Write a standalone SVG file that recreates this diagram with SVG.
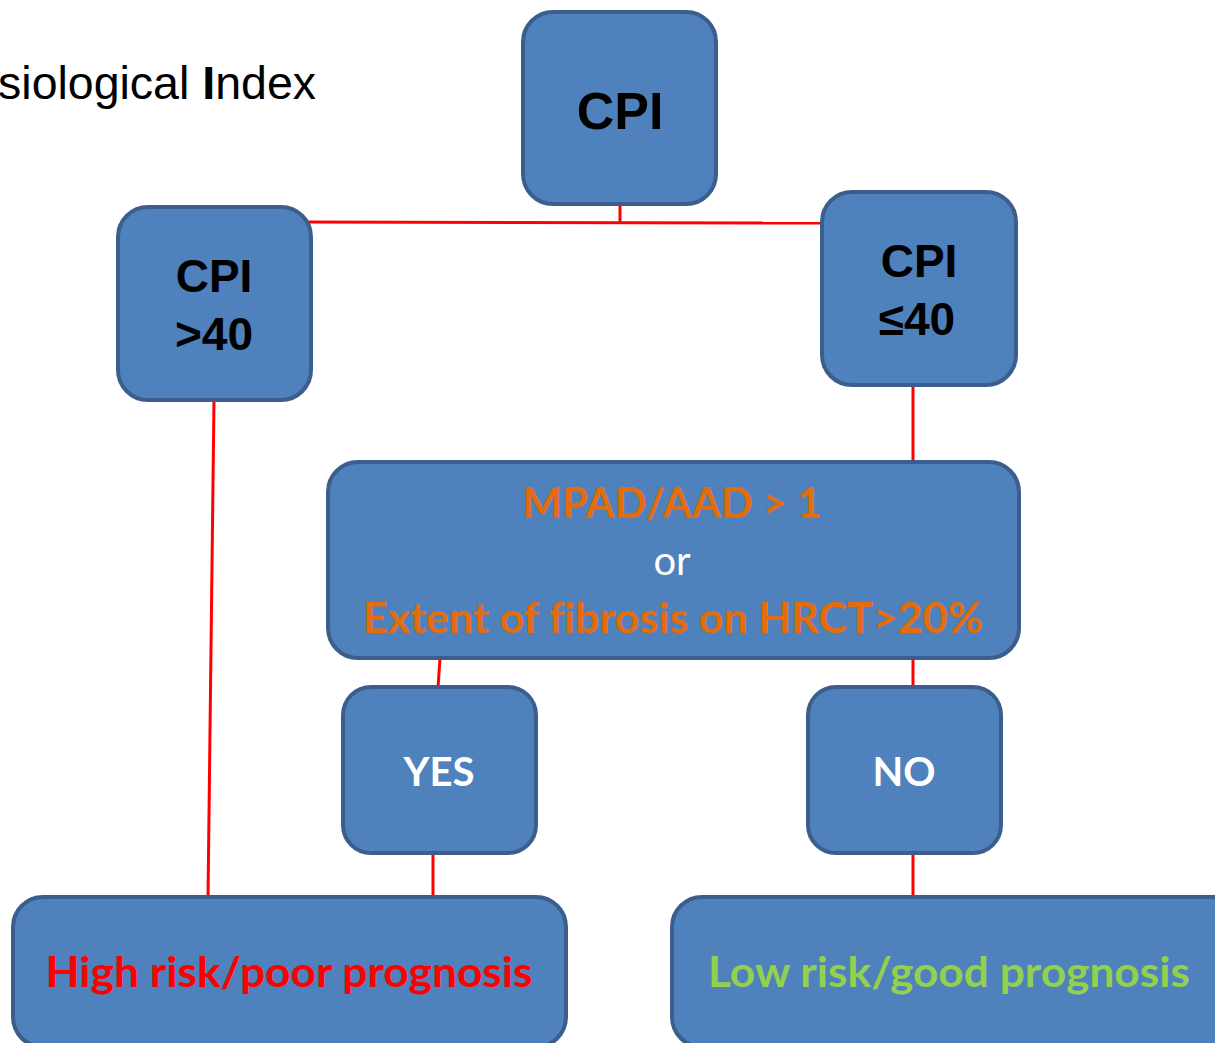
<svg xmlns="http://www.w3.org/2000/svg" width="1215" height="1043" viewBox="0 0 1215 1043">
  <style>
    .box { fill: #4f81bd; stroke: #3b5e8c; stroke-width: 4; }
    .link { stroke: #ff0000; stroke-width: 3; fill: none; }
    .hd { font-family: "Liberation Sans", Arial, sans-serif; font-weight: bold; fill: #000; text-anchor: middle; }
    .cal { font-family: Lato, "Open Sans", sans-serif; text-anchor: middle; font-variant-ligatures: none; font-feature-settings: "liga" 0, "clig" 0; }
    .b { font-weight: bold; }
  </style>
  <rect width="1215" height="1043" fill="#ffffff"/>

  <!-- title fragment -->
  <text x="316" y="99" font-family="Liberation Sans, Arial, sans-serif" font-size="46.5" fill="#000" text-anchor="end">siological <tspan font-weight="bold">I</tspan>ndex</text>

  <!-- connectors -->
  <g id="connectors">
    <line class="link" x1="620" y1="204" x2="620" y2="222"/>
    <line class="link" x1="300" y1="222" x2="823" y2="223"/>
    <line class="link" x1="214" y1="400" x2="208" y2="898"/>
    <line class="link" x1="913" y1="385" x2="913" y2="463"/>
    <line class="link" x1="440" y1="658" x2="438" y2="688"/>
    <line class="link" x1="913" y1="658" x2="913" y2="688"/>
    <line class="link" x1="433" y1="853" x2="433" y2="898"/>
    <line class="link" x1="913" y1="853" x2="913" y2="898"/>
  </g>

  <g id="cpi">
    <rect class="box" x="523" y="12" width="193" height="192" rx="30"/>
    <text class="hd" x="620" y="129" font-size="52">CPI</text>
  </g>

  <g id="cpi-high">
    <rect class="box" x="118" y="207" width="193" height="193" rx="30"/>
    <text class="hd" x="214" y="292" font-size="46">CPI</text>
    <text class="hd" x="214" y="350" font-size="46">&gt;40</text>
  </g>

  <g id="cpi-low">
    <rect class="box" x="822" y="192" width="194" height="193" rx="30"/>
    <text class="hd" x="919" y="277" font-size="46">CPI</text>
    <text class="hd" x="917" y="335" font-size="46">≤40</text>
  </g>

  <g id="criteria">
    <rect class="box" x="328" y="462" width="691" height="196" rx="30"/>
    <text class="cal b" x="672" y="518" font-size="42" fill="#e46c0a" textLength="299" lengthAdjust="spacingAndGlyphs">MPAD/AAD &gt; 1</text>
    <text class="cal" x="672" y="575" font-size="40" fill="#ffffff">or</text>
    <text class="cal b" x="673" y="633" font-size="42" fill="#e46c0a" textLength="620" lengthAdjust="spacingAndGlyphs">Extent of fibrosis on HRCT&gt;20%</text>
  </g>

  <g id="yes">
    <rect class="box" x="343" y="687" width="193" height="166" rx="28"/>
    <text class="cal b" x="439" y="786" font-size="40" fill="#ffffff" textLength="71" lengthAdjust="spacingAndGlyphs">YES</text>
  </g>

  <g id="no">
    <rect class="box" x="808" y="687" width="193" height="166" rx="28"/>
    <text class="cal b" x="904" y="786" font-size="40" fill="#ffffff" textLength="63" lengthAdjust="spacingAndGlyphs">NO</text>
  </g>

  <g id="high-risk">
    <rect class="box" x="13" y="897" width="553" height="150" rx="30"/>
    <text class="cal b" x="289" y="987" font-size="42" fill="#ff0000" textLength="487" lengthAdjust="spacingAndGlyphs">High risk/poor prognosis</text>
  </g>

  <g id="low-risk">
    <rect class="box" x="672" y="897" width="570" height="150" rx="30"/>
    <text class="cal b" x="949" y="987" font-size="42" fill="#92d050" textLength="482" lengthAdjust="spacingAndGlyphs">Low risk/good prognosis</text>
  </g>
</svg>
